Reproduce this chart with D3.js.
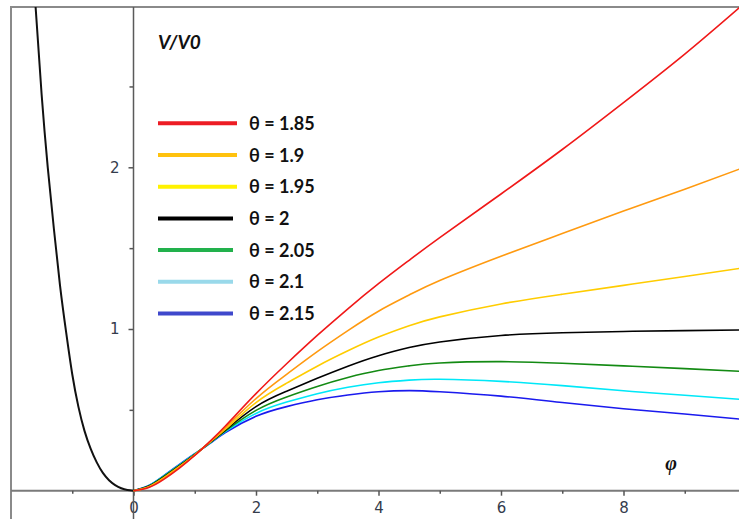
<!DOCTYPE html>
<html>
<head>
<meta charset="utf-8">
<script src="https://cdn.jsdelivr.net/npm/d3@7"></script>
<style>
body { margin: 0; background: #fff; }
svg { display: block; }
.tick text { font-family: "DejaVu Sans", sans-serif; font-size: 15px; fill: #343c4c; }
</style>
</head>
<body>
<div id="chart"></div>
<script>
// chart size
var svgWidth = 739;
var svgHeight = 519;

var phi = [0, 0.25, 0.5, 0.75, 1, 1.25, 1.5, 2, 2.5, 3, 3.5, 4, 4.5, 5, 6, 7, 8, 9, 9.9];

// V/V0 for each theta
var v185 = [0, 0.020, 0.072, 0.140, 0.218, 0.306, 0.400, 0.600, 0.785, 0.960, 1.125, 1.280, 1.425, 1.565, 1.835, 2.110, 2.400, 2.700, 2.990];
var v190 = [0, 0.023, 0.078, 0.146, 0.220, 0.303, 0.390, 0.570, 0.720, 0.860, 0.990, 1.110, 1.210, 1.300, 1.450, 1.590, 1.730, 1.865, 1.990];
var v195 = [0, 0.025, 0.082, 0.150, 0.222, 0.301, 0.380, 0.545, 0.665, 0.770, 0.865, 0.950, 1.020, 1.075, 1.155, 1.215, 1.270, 1.325, 1.375];
var v200 = [0, 0.027, 0.086, 0.153, 0.223, 0.299, 0.375, 0.520, 0.615, 0.695, 0.770, 0.835, 0.885, 0.920, 0.960, 0.977, 0.985, 0.990, 0.994];
var v205 = [0, 0.029, 0.090, 0.157, 0.225, 0.297, 0.370, 0.497, 0.580, 0.645, 0.700, 0.743, 0.772, 0.790, 0.798, 0.788, 0.772, 0.755, 0.738];
var v210 = [0, 0.031, 0.093, 0.160, 0.227, 0.295, 0.365, 0.478, 0.548, 0.600, 0.640, 0.668, 0.684, 0.689, 0.676, 0.650, 0.618, 0.590, 0.565];
var v215 = [0, 0.032, 0.095, 0.163, 0.229, 0.293, 0.360, 0.460, 0.520, 0.562, 0.592, 0.612, 0.619, 0.612, 0.585, 0.545, 0.507, 0.474, 0.443];

// left branch (phi < 0), same for all theta
var phiNeg = [-1.6, -1.5, -1.4, -1.3, -1.2, -1.1, -1.0, -0.9, -0.8, -0.7, -0.6, -0.5, -0.4, -0.3, -0.2, -0.1, 0];
var vNeg = [3.00, 2.45, 2.00, 1.62, 1.27, 0.98, 0.72, 0.52, 0.37, 0.26, 0.175, 0.11, 0.065, 0.035, 0.015, 0.004, 0];

var thetaLabels = ["θ = 1.85", "θ = 1.9", "θ = 1.95", "θ = 2", "θ = 2.05", "θ = 2.1", "θ = 2.15"];
var lineColors = ["#f01818", "#ff9a10", "#ffcc00", "#000000", "#138a13", "#00e8f8", "#1a1aee"];
var legendColors = ["#ed1c24", "#ffc20e", "#fff200", "#000000", "#22b14c", "#99d9ea", "#3f48cc"];

var xTicks = [0, 2, 4, 6, 8];
var xMinor = [-1, 1, 3, 5, 7, 9];
var yTicks = [1, 2];
var yMinor = [0.5, 1.5, 2.5];

var series = [v185, v190, v195, v200, v205, v210, v215];

var svg = d3.select("#chart")
    .append("svg")
    .attr("width", svgWidth)
    .attr("height", svgHeight);

// scales
var xScale = d3.scaleLinear().domain([-2, 10]).range([11, 746]);
var yScale = d3.scaleLinear().domain([0, 3]).range([490.7, 5.6]);

svg.append("defs").append("clipPath")
    .attr("id", "plot")
    .append("rect")
    .attr("x", 11).attr("y", 7)
    .attr("width", svgWidth - 11).attr("height", svgHeight - 7);

// frame
svg.append("path")
    .attr("d", "M11," + svgHeight + "V7H" + svgWidth)
    .attr("fill", "none")
    .attr("stroke", "#8a8a8a")
    .attr("stroke-width", 2);

// x axis
svg.append("line")
    .attr("x1", 11).attr("x2", svgWidth)
    .attr("y1", yScale(0)).attr("y2", yScale(0))
    .attr("stroke", "#7a7a7a").attr("stroke-width", 2);

var xAxis = svg.append("g")
    .attr("transform", `translate(0, ${yScale(0)})`)
    .call(d3.axisBottom(xScale).tickValues(xTicks).tickSize(5).tickPadding(7).tickFormat(d3.format("d")));
xAxis.select(".domain").remove();
xAxis.selectAll(".tick line").attr("stroke", "#555").attr("stroke-width", 1.5);

svg.append("g")
    .attr("transform", `translate(0, ${yScale(0)})`)
    .call(d3.axisBottom(xScale).tickValues(xMinor).tickSize(3).tickFormat(""))
    .call(g => g.select(".domain").remove())
    .selectAll(".tick line").attr("stroke", "#555").attr("stroke-width", 1.5);

// y axis
var yAxis = svg.append("g")
    .attr("transform", `translate(${xScale(0)}, 0)`)
    .call(d3.axisLeft(yScale).tickValues(yTicks).tickSize(5).tickPadding(9).tickFormat(d3.format("d")));
yAxis.select(".domain").remove();
yAxis.selectAll(".tick line").attr("stroke", "#555").attr("stroke-width", 1.5);

svg.append("g")
    .attr("transform", `translate(${xScale(0)}, 0)`)
    .call(d3.axisLeft(yScale).tickValues(yMinor).tickSize(4).tickFormat(""))
    .call(g => g.select(".domain").remove())
    .selectAll(".tick line").attr("stroke", "#555").attr("stroke-width", 1.5);

svg.append("line")
    .attr("x1", xScale(0)).attr("x2", xScale(0))
    .attr("y1", 7).attr("y2", svgHeight)
    .attr("stroke", "#5a5a5a").attr("stroke-width", 1.5);

// curves
var line = d3.line()
    .x(d => xScale(d[0]))
    .y(d => yScale(d[1]))
    .curve(d3.curveNatural);

var curves = svg.append("g").attr("clip-path", "url(#plot)");

curves.append("path")
    .datum(d3.zip(phiNeg, vNeg))
    .attr("d", line)
    .attr("fill", "none")
    .attr("stroke", "#111")
    .attr("stroke-width", 2);

// draw from blue to red so the red ends on top
for (var i = series.length - 1; i >= 0; i--) {
    curves.append("path")
        .datum(d3.zip(phi, series[i]))
        .attr("d", line)
        .attr("fill", "none")
        .attr("stroke", lineColors[i])
        .attr("stroke-width", 1.6);
}

// legend
var legend = svg.append("g");
thetaLabels.forEach(function(label, i) {
    var y = 123.3 + i * 31.7;
    legend.append("line")
        .attr("x1", 158).attr("x2", i < 3 ? 237 : 233)
        .attr("y1", y).attr("y2", y)
        .attr("stroke", legendColors[i])
        .attr("stroke-width", 4);
    legend.append("text")
        .attr("x", 249)
        .attr("y", y + 6.5)
        .style("font-family", "Lato, sans-serif")
        .style("font-weight", "bold")
        .style("font-size", "18px")
        .attr("fill", "#111")
        .text(label);
});

// axis titles
svg.append("text")
    .attr("x", 158)
    .attr("y", 49)
    .style("font-family", "Lato, sans-serif")
    .style("font-weight", "bold")
    .style("font-style", "italic")
    .style("font-size", "19px")
    .attr("fill", "#111")
    .text("V/V0");

svg.append("text")
    .attr("x", 671)
    .attr("y", 470)
    .attr("text-anchor", "middle")
    .style("font-family", "Liberation Serif, serif")
    .style("font-weight", "bold")
    .style("font-style", "italic")
    .style("font-size", "20px")
    .attr("fill", "#111")
    .text("φ");
</script>
</body>
</html>
